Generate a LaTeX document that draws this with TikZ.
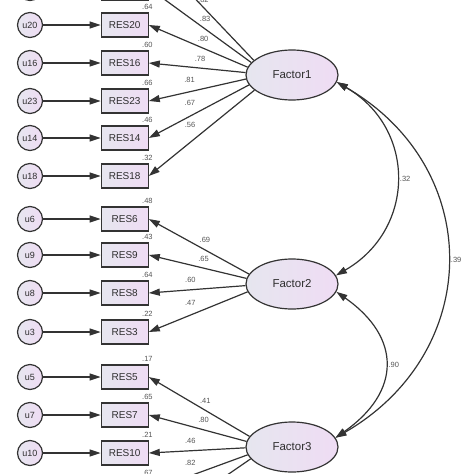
\documentclass[tikz,border=0pt]{standalone}
\usepackage{fontspec}
\setmainfont{Liberation Sans}
\usetikzlibrary{arrows.meta,positioning,shapes.geometric}
\definecolor{amosline}{HTML}{333333}
\definecolor{amosleft}{HTML}{E6E6EF}
\definecolor{amosright}{HTML}{EFDCF4}
\definecolor{amostext}{HTML}{2E2E2E}
\definecolor{amosgray}{HTML}{555555}

\begin{document}
\begin{tikzpicture}[x=1pt, y=-1pt,
  error/.style={circle, draw=amosline, line width=1.2pt, left color=amosleft,
                right color=amosright, minimum size=25pt, inner sep=0pt,
                font=\fontsize{9}{9}\selectfont, text=amostext},
  item/.style={rectangle, draw=amosline, line width=1.2pt, left color=amosleft,
               right color=amosright, minimum width=47pt, minimum height=24pt,
               inner sep=0pt, font=\fontsize{10}{10}\selectfont, text=amostext},
  factor/.style={ellipse, draw=amosline, line width=1.2pt, left color=amosleft,
                 right color=amosright, minimum width=92pt, minimum height=50pt,
                 inner sep=0pt, font=\fontsize{11.5}{11.5}\selectfont, text=amostext},
  smc/.style={font=\fontsize{7.5}{7.5}\selectfont, text=amosgray, inner sep=1pt},
  load/.style={font=\fontsize{7.5}{7.5}\selectfont, text=amosgray, above=3pt},
  arrow/.style={-{Triangle[length=11pt,width=7pt]}, line width=1.2pt, draw=amosline},
  cov/.style={{Triangle[length=11pt,width=7pt]}-{Triangle[length=11pt,width=7pt]},
              line width=1.2pt, draw=amosline},
]
  \useasboundingbox (0,0) rectangle (474,474);
  \clip (0,0) rectangle (474,474);

  % Factor 1 and its items (two rows cut off at the top).
  \node[factor] (f1) at (292,75) {Factor1};
  \node[error] (ua) at (30,-50) {};
  \node[item, right=57.5pt of ua] (resa) {};
  \node[error] (ub) at (30,-12) {};
  \node[item, right=57.5pt of ub] (resb) {};
  \node[error] (u20) at (30,25) {u20};
  \node[item, right=57.5pt of u20] (res20) {RES20};
  \node[error] (u16) at (30,63) {u16};
  \node[item, right=57.5pt of u16] (res16) {RES16};
  \node[error] (u23) at (30,101) {u23};
  \node[item, right=57.5pt of u23] (res23) {RES23};
  \node[error] (u14) at (30,138) {u14};
  \node[item, right=57.5pt of u14] (res14) {RES14};
  \node[error] (u18) at (30,176) {u18};
  \node[item, right=57.5pt of u18] (res18) {RES18};
  \node[smc, above left=2pt and -5pt of res20.north east] (smc20) {.64};
  \node[smc, above left=2pt and -5pt of res16.north east] (smc16) {.60};
  \node[smc, above left=2pt and -5pt of res23.north east] (smc23) {.66};
  \node[smc, above left=2pt and -5pt of res14.north east] (smc14) {.46};
  \node[smc, above left=2pt and -5pt of res18.north east] (smc18) {.32};
  \draw[arrow] (f1.159) -- node[load, pos=.48, above=1pt] (la) {.82} (resa.east);
  \draw[arrow] (f1.163) -- node[load, pos=.45] (lb) {.83} (resb.east);
  \draw[arrow] (f1.170) -- node[load, pos=.45] (l20) {.80} (res20.east);
  \draw[arrow] (f1.177) -- node[load, pos=.47] (l16) {.78} (res16.east);
  \draw[arrow] (f1.185) -- node[load, pos=.58, above=5pt] (l23) {.81} (res23.east);
  \draw[arrow] (f1.193) -- node[load, pos=.59, above=7pt] (l14) {.67} (res14.east);
  \draw[arrow] (f1.202) -- node[load, pos=.61, above=11pt] (l18) {.56} (res18.east);

  % Factor 2 and its items.
  \node[factor] (f2) at (292,284) {Factor2};
  \node[error] (u6) at (30,219) {u6};
  \node[item, right=57.5pt of u6] (res6) {RES6};
  \node[error] (u9) at (30,255) {u9};
  \node[item, right=57.5pt of u9] (res9) {RES9};
  \node[error] (u8) at (30,293) {u8};
  \node[item, right=57.5pt of u8] (res8) {RES8};
  \node[error] (u3) at (30,332) {u3};
  \node[item, right=57.5pt of u3] (res3) {RES3};
  \node[smc, above left=2pt and -5pt of res6.north east] (smc6) {.48};
  \node[smc, above left=2pt and -5pt of res9.north east] (smc9) {.43};
  \node[smc, above left=2pt and -5pt of res8.north east] (smc8) {.64};
  \node[smc, above left=2pt and -5pt of res3.north east] (smc3) {.22};
  \draw[arrow] (f2.167) -- node[load, pos=.44] (l6) {.69} (res6.east);
  \draw[arrow] (f2.173) -- node[load, pos=.44] (l9) {.65} (res9.east);
  \draw[arrow] (f2.182) -- node[load, pos=.57] (l8) {.60} (res8.east);
  \draw[arrow] (f2.190) -- node[load, pos=.58, above=6pt] (l3) {.47} (res3.east);

  % Factor 3 and its items (two rows cut off at the bottom).
  \node[factor] (f3) at (292,447) {Factor3};
  \node[error] (u5) at (30,377) {u5};
  \node[item, right=57.5pt of u5] (res5) {RES5};
  \node[error] (u7) at (30,415) {u7};
  \node[item, right=57.5pt of u7] (res7) {RES7};
  \node[error] (u10) at (30,453) {u10};
  \node[item, right=57.5pt of u10] (res10) {RES10};
  \node[error] (ud) at (30,491) {};
  \node[item, right=57.5pt of ud] (resd) {};
  \node[error] (ue) at (30,529) {};
  \node[item, right=57.5pt of ue] (rese) {};
  \node[smc, above left=2pt and -5pt of res5.north east] (smc5) {.17};
  \node[smc, above left=2pt and -5pt of res7.north east] (smc7) {.65};
  \node[smc, above left=2pt and -5pt of res10.north east] (smc10) {.21};
  \node[smc, above left=2pt and -5pt of resd.north east] (smcd) {.67};
  \draw[arrow] (f3.166) -- node[load, pos=.44] (l5) {.41} (res5.east);
  \draw[arrow] (f3.173) -- node[load, pos=.44] (l7) {.80} (res7.east);
  \draw[arrow] (f3.181) -- node[load, pos=.57] (l10) {.46} (res10.east);
  \draw[arrow] (f3.190) -- node[load, pos=.58, above=6pt] (ld) {.82} (resd.east);
  \draw[arrow] (f3.196) -- (rese.east);

  % Error terms.
  \foreach \e/\r in {ua/resa, ub/resb, u20/res20, u16/res16, u23/res23, u14/res14,
                     u18/res18, u6/res6, u9/res9, u8/res8, u3/res3, u5/res5,
                     u7/res7, u10/res10, ud/resd, ue/rese}
    \draw[arrow] (\e) -- (\r);

  % Covariances between the factors.
  \draw[cov] (f1.-9) to[out=-30, in=30, looseness=1.22]
    node[smc, right=2pt] (c12) {.32} (f2.11);
  \draw[cov] (f2.-10) to[out=-35, in=35, looseness=1.4]
    node[smc, right=2pt] (c23) {.90} (f3.12);
  \draw[cov] (f1.-9) to[out=-30, in=30, looseness=1.23]
    node[smc, right=2pt] (c13) {.39} (f3.12);
\end{tikzpicture}
\end{document}
